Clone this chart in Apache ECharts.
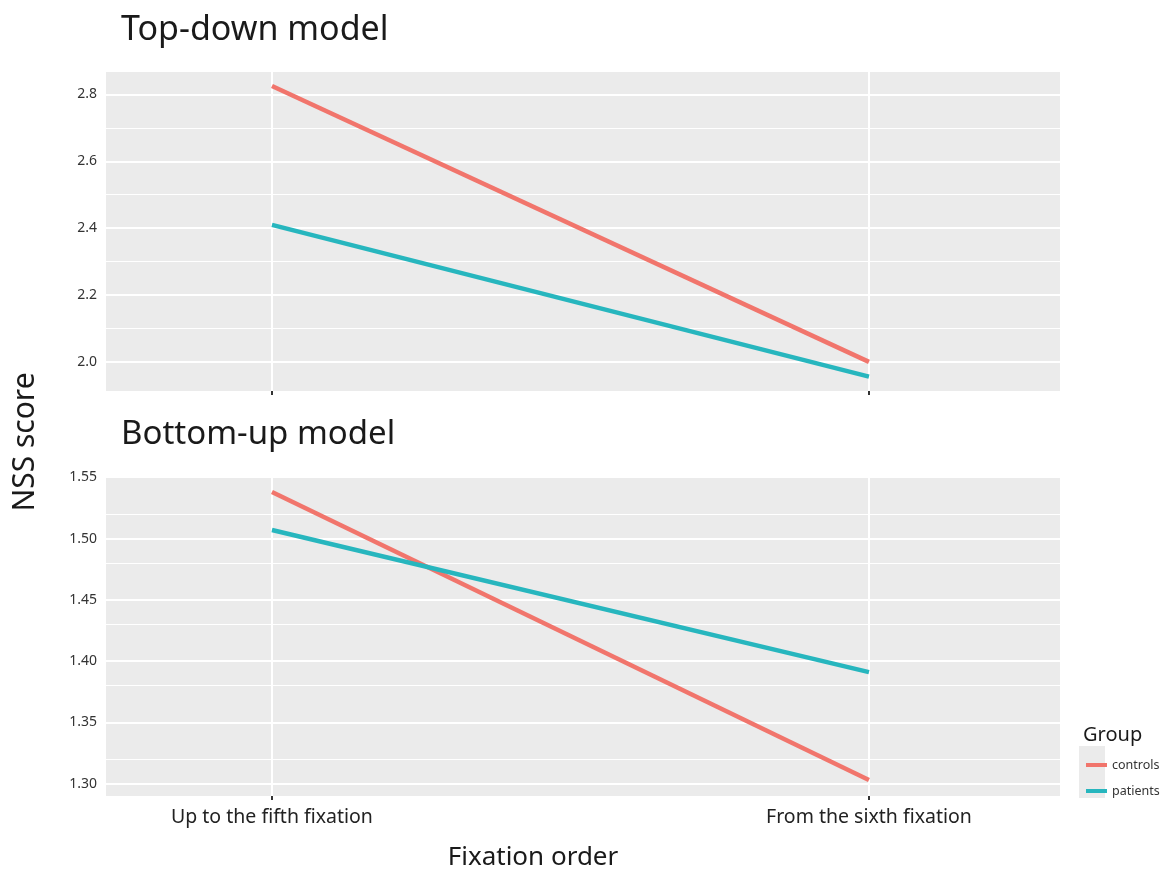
<!DOCTYPE html>
<html>
<head>
<meta charset="utf-8">
<title>NSS score by fixation order</title>
<script src="https://cdn.jsdelivr.net/npm/echarts@6/dist/echarts.min.js"></script>
<style>
  html, body { margin: 0; padding: 0; background: #ffffff; }
  #chart { width: 1160px; height: 870px; }
</style>
</head>
<body>
<div id="chart"></div>
<script>
// Fixation-order categories (x positions 0 and 1 on a numeric axis)
const categories = ['Up to the fifth fixation', 'From the sixth fixation'];
const groups = ['controls', 'patients'];
const groupColors = ['#F1756C', '#27B6BE'];

// Top-down model NSS scores
const topDownControls = [2.825, 2.0];
const topDownPatients = [2.41, 1.956];

// Bottom-up model NSS scores
const bottomUpControls = [1.538, 1.303];
const bottomUpPatients = [1.507, 1.391];

// Tick values (major carry labels, minor are gridlines only)
const topMajorTicks = [2.0, 2.2, 2.4, 2.6, 2.8];
const topMinorTicks = [2.1, 2.3, 2.5, 2.7];
const bottomMajorTicks = [1.30, 1.35, 1.40, 1.45, 1.50, 1.55];
const bottomMinorTicks = [1.325, 1.375, 1.425, 1.475, 1.525];

const FONT = '"Noto Sans", "Open Sans", sans-serif';
const PANEL_BG = '#EBEBEB';
const catIndex = categories.map((_, i) => i);

function toPoints(values) {
  return values.map((v, i) => [catIndex[i], v]);
}

function gridLines(major, minor) {
  const lines = [];
  minor.forEach(v => lines.push({ yAxis: v, lineStyle: { color: '#ffffff', width: 1, type: 'solid' } }));
  major.forEach(v => lines.push({ yAxis: v, lineStyle: { color: '#ffffff', width: 2, type: 'solid' } }));
  catIndex.forEach(i => lines.push({ xAxis: i, lineStyle: { color: '#ffffff', width: 2, type: 'solid' } }));
  return lines;
}

function xAxisFor(gridIndex, showLabels) {
  return {
    type: 'value',
    gridIndex: gridIndex,
    min: -0.278,
    max: 1.32,
    axisLine: { show: false },
    splitLine: { show: false },
    axisTick: {
      show: true, length: 4, inside: false, customValues: catIndex,
      lineStyle: { color: '#333333', width: 2 }
    },
    axisLabel: {
      show: showLabels,
      customValues: catIndex,
      formatter: v => categories[Math.round(v)] || '',
      fontFamily: FONT, fontSize: 19.5, color: '#222222', margin: 11
    }
  };
}

function yAxisFor(gridIndex, min, max, major, digits) {
  return {
    type: 'value',
    gridIndex: gridIndex,
    min: min,
    max: max,
    axisLine: { show: false },
    splitLine: { show: false },
    axisTick: {
      show: true, length: 4, customValues: major,
      lineStyle: { color: '#333333', width: 2 }
    },
    axisLabel: {
      customValues: major,
      formatter: v => Number(v).toFixed(digits),
      fontFamily: FONT, fontSize: 14, color: '#333333', margin: 9
    }
  };
}

function lineSeries(name, values, axisIdx, color) {
  return {
    name: name,
    type: 'line',
    xAxisIndex: axisIdx,
    yAxisIndex: axisIdx,
    data: toPoints(values),
    showSymbol: false,
    symbol: 'none',
    silent: true,
    z: 5,
    lineStyle: { color: color, width: 4.5, cap: 'butt' },
    itemStyle: { color: color }
  };
}

function gridSeries(axisIdx, major, minor) {
  return {
    type: 'line',
    xAxisIndex: axisIdx,
    yAxisIndex: axisIdx,
    data: [],
    silent: true,
    z: 1,
    markLine: {
      silent: true,
      symbol: 'none',
      label: { show: false },
      animation: false,
      data: gridLines(major, minor)
    }
  };
}

const chart = echarts.init(document.getElementById('chart'), null, { renderer: 'canvas' });

chart.setOption({
  animation: false,
  backgroundColor: '#ffffff',
  title: [
    { text: 'Top-down model', left: 116, top: 8,
      textStyle: { fontFamily: FONT, fontSize: 34, fontWeight: 'normal', color: '#1a1a1a' } },
    { text: 'Bottom-up model', left: 116, top: 413,
      textStyle: { fontFamily: FONT, fontSize: 33, fontWeight: 'normal', color: '#1a1a1a' } },
    { text: 'Group', left: 1078, top: 720,
      textStyle: { fontFamily: FONT, fontSize: 20, fontWeight: 'normal', color: '#1a1a1a' } }
  ],
  grid: [
    { left: 106, right: 100, top: 72, height: 319, backgroundColor: PANEL_BG, show: true, borderWidth: 0 },
    { left: 106, right: 100, top: 476, height: 320, backgroundColor: PANEL_BG, show: true, borderWidth: 0 }
  ],
  xAxis: [xAxisFor(0, false), xAxisFor(1, true)],
  yAxis: [
    yAxisFor(0, 1.913, 2.867, topMajorTicks, 1),
    yAxisFor(1, 1.290, 1.551, bottomMajorTicks, 2)
  ],
  legend: {
    orient: 'vertical',
    left: 1081,
    top: 751,
    itemWidth: 21,
    itemHeight: 4,
    itemGap: 8,
    icon: 'rect',
    data: groups,
    selectedMode: false,
    textStyle: { fontFamily: FONT, fontSize: 12.5, color: '#333333', lineHeight: 18 }
  },
  graphic: [
    { type: 'rect', left: 1079, top: 746, z: -1,
      shape: { width: 26, height: 52 }, style: { fill: PANEL_BG } },
    { type: 'text', x: 25, y: 442, rotation: Math.PI / 2,
      style: { text: 'NSS score', font: '30px ' + FONT, fill: '#1a1a1a',
               textAlign: 'center', textVerticalAlign: 'middle' } },
    { type: 'text', x: 533, y: 858,
      style: { text: 'Fixation order', font: '26px ' + FONT, fill: '#1a1a1a',
               textAlign: 'center', textVerticalAlign: 'middle' } }
  ],
  series: [
    gridSeries(0, topMajorTicks, topMinorTicks),
    gridSeries(1, bottomMajorTicks, bottomMinorTicks),
    lineSeries(groups[0], topDownControls, 0, groupColors[0]),
    lineSeries(groups[1], topDownPatients, 0, groupColors[1]),
    lineSeries(groups[0], bottomUpControls, 1, groupColors[0]),
    lineSeries(groups[1], bottomUpPatients, 1, groupColors[1])
  ]
});
</script>
</body>
</html>
